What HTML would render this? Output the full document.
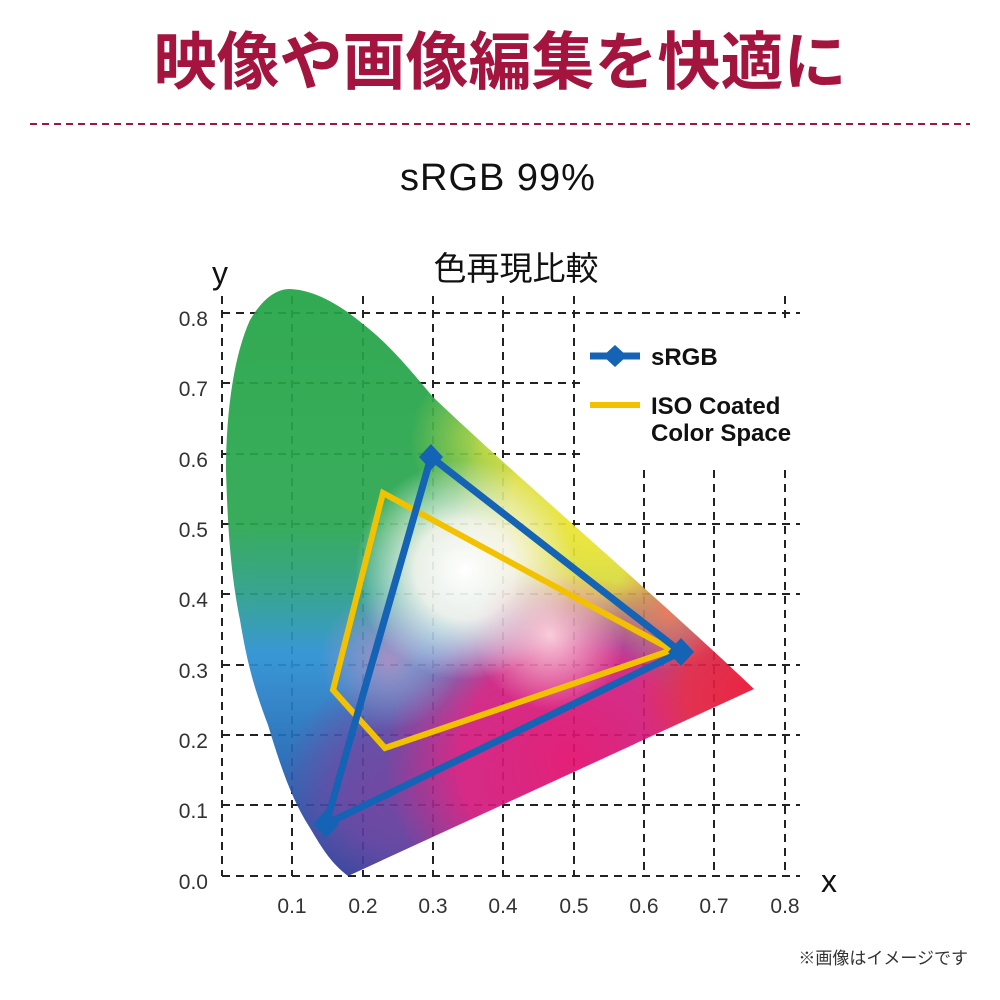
<!DOCTYPE html>
<html><head><meta charset="utf-8"><style>
body{margin:0;background:#fff;width:1000px;height:1000px;overflow:hidden}
svg{display:block}
text{font-family:"Liberation Sans","Noto Sans CJK JP",sans-serif}
</style></head><body>
<svg width="1000" height="1000" viewBox="0 0 1000 1000">
<defs>
<clipPath id="hs"><path d="M348,876 C330,862 322,848 310,828 C292,800 281,768 268,725 C255,690 248,668 240,620 C232,580 228,540 226,470 C226,420 232,360 250,320 C262,300 275,289 290,289 C315,290 340,305 363,324 C390,345 410,370 433,397 C520,480 650,590 754,689 Z"/></clipPath>
<linearGradient id="base" x1="0" y1="290" x2="0" y2="876" gradientUnits="userSpaceOnUse">
<stop offset="0" stop-color="#23a446"/><stop offset="0.4" stop-color="#2aa650"/>
<stop offset="0.52" stop-color="#2a9e8a"/><stop offset="0.62" stop-color="#2b90d2"/>
<stop offset="0.8" stop-color="#2168b6"/><stop offset="1" stop-color="#1a3a96"/>
</linearGradient>
<radialGradient id="gY" cx="595" cy="510" r="140" gradientUnits="userSpaceOnUse"><stop offset="0" stop-color="#f6e92e"/><stop offset="0.6" stop-color="#f2e434" stop-opacity="0.85"/><stop offset="1" stop-color="#f2e434" stop-opacity="0"/></radialGradient>
<radialGradient id="gG" cx="490" cy="440" r="80" gradientUnits="userSpaceOnUse"><stop offset="0" stop-color="#b8d63c"/><stop offset="1" stop-color="#b8d63c" stop-opacity="0"/></radialGradient>
<radialGradient id="gM" cx="570" cy="760" r="185" gradientUnits="userSpaceOnUse"><stop offset="0" stop-color="#e2106e"/><stop offset="0.6" stop-color="#e0167a" stop-opacity="0.9"/><stop offset="1" stop-color="#e0167a" stop-opacity="0"/></radialGradient>
<radialGradient id="gR" cx="745" cy="688" r="110" gradientUnits="userSpaceOnUse"><stop offset="0" stop-color="#ea1434"/><stop offset="0.55" stop-color="#e8203c" stop-opacity="0.9"/><stop offset="1" stop-color="#e8203c" stop-opacity="0"/></radialGradient>
<radialGradient id="gO" cx="670" cy="610" r="60" gradientUnits="userSpaceOnUse"><stop offset="0" stop-color="#f07050"/><stop offset="1" stop-color="#f07050" stop-opacity="0"/></radialGradient>
<radialGradient id="gP" cx="400" cy="790" r="120" gradientUnits="userSpaceOnUse"><stop offset="0" stop-color="#6a3a9c"/><stop offset="0.5" stop-color="#6a3a9c" stop-opacity="0.8"/><stop offset="1" stop-color="#6a3a9c" stop-opacity="0"/></radialGradient>
<radialGradient id="gW" cx="465" cy="570" r="110" gradientUnits="userSpaceOnUse"><stop offset="0" stop-color="#ffffff"/><stop offset="0.45" stop-color="#fdf8f2" stop-opacity="0.9"/><stop offset="1" stop-color="#ffffff" stop-opacity="0"/></radialGradient>
<radialGradient id="gK" cx="550" cy="635" r="75" gradientUnits="userSpaceOnUse"><stop offset="0" stop-color="#fbc8d6"/><stop offset="1" stop-color="#fbc8d6" stop-opacity="0"/></radialGradient>
<radialGradient id="gL" cx="390" cy="660" r="70" gradientUnits="userSpaceOnUse"><stop offset="0" stop-color="#a088c0"/><stop offset="1" stop-color="#a088c0" stop-opacity="0"/></radialGradient>
</defs>
<text x="500" y="84" text-anchor="middle" font-size="63" font-weight="bold" fill="#a3143f">映像や画像編集を快適に</text>
<line x1="30" y1="124" x2="970" y2="124" stroke="#a3143f" stroke-width="2" stroke-dasharray="7,5"/>
<text x="498" y="190" text-anchor="middle" font-size="38" fill="#111" letter-spacing="1">sRGB 99%</text>
<text x="516" y="280" text-anchor="middle" font-size="33" fill="#111">色再現比較</text>
<text x="220" y="284" text-anchor="middle" font-size="32" fill="#111">y</text>
<text x="829" y="892" text-anchor="middle" font-size="32" fill="#111">x</text>
<g stroke="#222" stroke-width="2" stroke-dasharray="8,6" fill="none">
<line x1="222" y1="876" x2="800" y2="876"/>
<line x1="222" y1="805" x2="800" y2="805"/>
<line x1="222" y1="735" x2="800" y2="735"/>
<line x1="222" y1="665" x2="800" y2="665"/>
<line x1="222" y1="594" x2="800" y2="594"/>
<line x1="222" y1="524" x2="800" y2="524"/>
<line x1="222" y1="454" x2="580" y2="454"/>
<line x1="222" y1="383" x2="580" y2="383"/>
<line x1="222" y1="313" x2="800" y2="313"/>
<line x1="222" y1="296" x2="222" y2="876"/>
<line x1="292" y1="296" x2="292" y2="876"/>
<line x1="363" y1="296" x2="363" y2="876"/>
<line x1="433" y1="296" x2="433" y2="876"/>
<line x1="503" y1="296" x2="503" y2="876"/>
<line x1="574" y1="296" x2="574" y2="876"/>
<line x1="644" y1="470" x2="644" y2="876"/>
<line x1="714" y1="470" x2="714" y2="876"/>
<line x1="785" y1="296" x2="785" y2="320"/>
<line x1="785" y1="470" x2="785" y2="876"/>
</g>
<g clip-path="url(#hs)" opacity="0.93">
<rect x="200" y="270" width="580" height="620" fill="url(#base)"/>
<rect x="200" y="270" width="580" height="620" fill="url(#gG)"/>
<rect x="200" y="270" width="580" height="620" fill="url(#gY)"/>
<rect x="200" y="270" width="580" height="620" fill="url(#gP)"/>
<rect x="200" y="270" width="580" height="620" fill="url(#gM)"/>
<rect x="200" y="270" width="580" height="620" fill="url(#gR)"/>
<rect x="200" y="270" width="580" height="620" fill="url(#gO)"/>
<rect x="200" y="270" width="580" height="620" fill="url(#gL)"/>
<rect x="200" y="270" width="580" height="620" fill="url(#gW)"/>
<rect x="200" y="270" width="580" height="620" fill="url(#gK)"/>
</g>
<g font-size="21" fill="#333" text-anchor="end">
<text x="208" y="889">0.0</text><text x="208" y="818">0.1</text><text x="208" y="748">0.2</text>
<text x="208" y="678">0.3</text><text x="208" y="607">0.4</text><text x="208" y="537">0.5</text>
<text x="208" y="467">0.6</text><text x="208" y="396">0.7</text><text x="208" y="326">0.8</text>
</g>
<g font-size="21" fill="#333" text-anchor="middle">
<text x="292" y="913">0.1</text><text x="363" y="913">0.2</text><text x="433" y="913">0.3</text>
<text x="503" y="913">0.4</text><text x="574" y="913">0.5</text><text x="644" y="913">0.6</text>
<text x="714" y="913">0.7</text><text x="785" y="913">0.8</text>
</g>
<polygon points="383,493 672,650 385,748 333,690" fill="none" stroke="#f2c200" stroke-width="6" stroke-linejoin="miter"/>
<polygon points="431,457 681,652 326,824" fill="none" stroke="#1463b4" stroke-width="7" stroke-linejoin="round"/>
<g fill="#1463b4">
<polygon points="431,444 443,457 431,470 419,457"/>
<polygon points="681,638 694,652 681,666 668,652"/>
<polygon points="326,810 339,824 326,838 313,824"/>
</g>
<line x1="590" y1="356" x2="640" y2="356" stroke="#1463b4" stroke-width="7"/>
<polygon points="615,345 627,356 615,367 603,356" fill="#1463b4"/>
<line x1="590" y1="405" x2="640" y2="405" stroke="#f2c200" stroke-width="6"/>
<g font-size="24" font-weight="bold" fill="#111">
<text x="651" y="365">sRGB</text>
<text x="651" y="414">ISO Coated</text>
<text x="651" y="441">Color Space</text>
</g>
<text x="968" y="964" text-anchor="end" font-size="17" fill="#333">※画像はイメージです</text>
</svg>
</body></html>
